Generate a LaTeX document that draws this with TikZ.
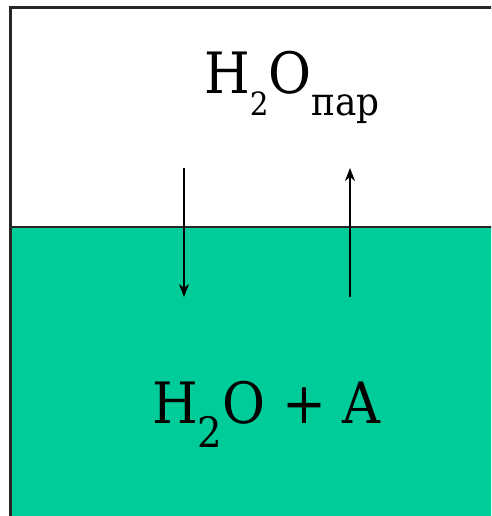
\documentclass[tikz,border=0pt]{standalone}
\usepackage{fontspec}
\newfontfamily\timesfont{DejaVu Serif}[FakeStretch=0.92]
\usetikzlibrary{arrows.meta}
\definecolor{watergreen}{RGB}{0,204,153}

\begin{document}
\begin{tikzpicture}[x=1pt, y=-1pt,
    big text/.style={inner sep=0pt, anchor=base west,
        font=\timesfont\fontsize{57}{64}\selectfont},
    flow/.style={line width=1.8pt,
        -{Stealth[length=13pt, width=10pt, inset=4pt]}},
    wall/.style={line width=2.4pt, black!85}
]
    \useasboundingbox (0,0) rectangle (491,516);
    \clip (0,0) rectangle (491,516);

    % liquid and vessel
    \fill[watergreen] (10.5,227) rectangle (500,520);
    \draw[wall] (10.5,520) -- (10.5,7.5) -- (500,7.5);
    \draw[wall] (10.5,227) -- (500,227);

    \node[big text] (vapour) at (204,94)
        {H\raisebox{-22pt}{\fontsize{32}{32}\selectfont 2}O\raisebox{-22pt}{\fontsize{39}{39}\selectfont пар}};
    \node[big text] (solution) at (152,423)
        {H\raisebox{-24pt}{\fontsize{42}{42}\selectfont 2}O + A};

    \coordinate (cond top) at (184,168);
    \coordinate (cond end) at (184,297);
    \coordinate (evap start) at (350,297);
    \coordinate (evap top) at (350,168);

    \draw[flow] (cond top) -- (cond end);
    \draw[flow] (evap start) -- (evap top);

\end{tikzpicture}
\end{document}
